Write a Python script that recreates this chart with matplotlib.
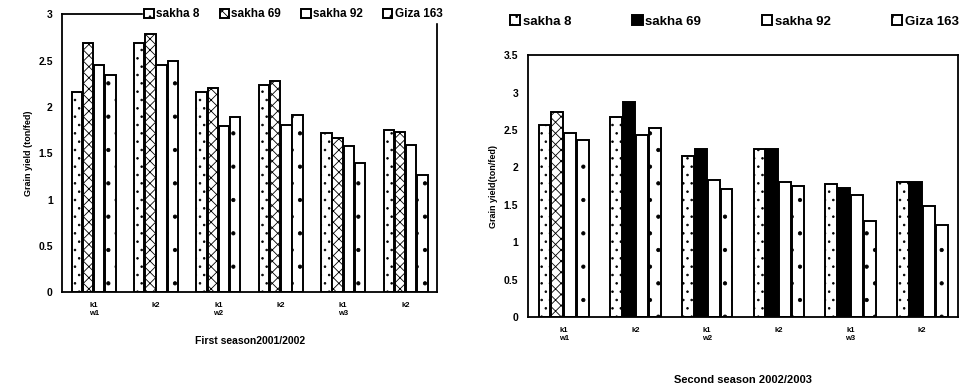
import numpy as np
import matplotlib
matplotlib.use("Agg")
import matplotlib.pyplot as plt

varieties = ["sakha 8", "sakha 69", "sakha 92", "Giza 163"]
tick_labels = ["k1\nw1", "k2", "k1\nw2", "k2", "k1\nw3", "k2"]

# first season 2001/2002 (ton/fed)
s1_sakha8 = [2.16, 2.69, 2.16, 2.24, 1.72, 1.75]
s1_sakha69 = [2.69, 2.79, 2.21, 2.28, 1.66, 1.73]
s1_sakha92 = [2.45, 2.45, 1.79, 1.81, 1.58, 1.59]
s1_giza163 = [2.34, 2.50, 1.89, 1.91, 1.40, 1.26]

# second season 2002/2003
s2_sakha8 = [2.56, 2.67, 2.15, 2.24, 1.78, 1.80]
s2_sakha69 = [2.74, 2.87, 2.24, 2.24, 1.72, 1.80]
s2_sakha92 = [2.46, 2.43, 1.83, 1.80, 1.63, 1.48]
s2_giza163 = [2.36, 2.52, 1.71, 1.75, 1.28, 1.23]

plt.rcParams["font.family"] = ["Liberation Sans", "DejaVu Sans"]
plt.rcParams["font.weight"] = "bold"
plt.rcParams["hatch.linewidth"] = 0.6

fig = plt.figure(figsize=(9.6, 3.88), dpi=100)
x = np.arange(len(tick_labels))
w = 0.18
offsets = np.array([-1.5, -0.5, 0.5, 1.5]) * w


def draw(ax, series, hatches, faces, ymax, step):
    handles = []
    for i, vals in enumerate(series):
        bars = ax.bar(x + offsets[i], vals, width=w * 0.92, color=faces[i],
                      edgecolor="black", linewidth=1.4, hatch=hatches[i])
        handles.append(bars)
    ax.set_xlim(-0.5, 5.5)
    ax.set_ylim(0, ymax)
    ticks = np.arange(0, ymax + 0.01, step)
    ax.set_yticks(ticks)
    ax.set_yticklabels([f"{v:g}" for v in ticks], fontsize=7.5, fontweight="bold")
    ax.set_xticks(x)
    ax.set_xticklabels(tick_labels, fontsize=5.5, fontweight="bold")
    ax.tick_params(length=0, pad=7)
    for s in ax.spines.values():
        s.set_linewidth(1.3)
    return handles


ax1 = fig.add_axes([0.065, 0.247, 0.39, 0.716])
h1 = draw(ax1, [s1_sakha8, s1_sakha69, s1_sakha92, s1_giza163],
          ["..", "xxx", "", "."], ["white"] * 4, 3, 0.5)
ax1.set_ylabel("Grain yield (ton/fed)", fontsize=6.5, fontweight="bold")
ax1.set_xlabel("First season2001/2002", fontsize=7.5, fontweight="bold", labelpad=14)
leg1 = ax1.legend(h1, varieties, loc="center left", bbox_to_anchor=(0.2, 1.0),
                  ncol=4, frameon=True, fontsize=8.5, handlelength=0.8,
                  handleheight=0.8, handletextpad=0.2, columnspacing=1.7,
                  borderpad=0.1, framealpha=1, edgecolor="white", fancybox=False)
for t in leg1.get_texts():
    t.set_fontweight("bold")

ax2 = fig.add_axes([0.55, 0.183, 0.448, 0.675])
h2 = draw(ax2, [s2_sakha8, s2_sakha69, s2_sakha92, s2_giza163],
          ["..", "", "", "."], ["white", "black", "white", "white"], 3.5, 0.5)
ax2.set_ylabel("Grain yield(ton/fed)", fontsize=6.5, fontweight="bold")
ax2.set_xlabel("Second season 2002/2003", fontsize=8, fontweight="bold", labelpad=24)
leg2 = ax2.legend(h2, varieties, loc="lower left", bbox_to_anchor=(-0.07, 1.06),
                  ncol=4, frameon=False, fontsize=9.5, handlelength=0.8,
                  handleheight=0.8, handletextpad=0.2, columnspacing=4.6)
for t in leg2.get_texts():
    t.set_fontweight("bold")
# first sakha 69 bar in season 2 is hatched, not solid
h2[1][0].set_facecolor("white")
h2[1][0].set_hatch("xxx")

fig.savefig("out.png", dpi=100)
